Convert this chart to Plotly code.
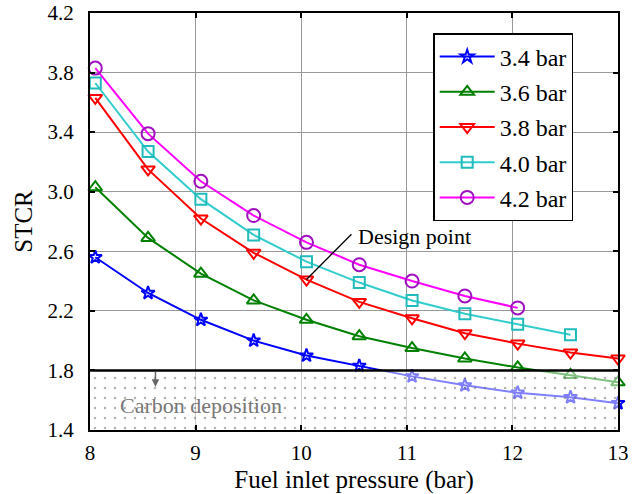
import plotly.graph_objects as go

# ---- data ----
pressure = [8.05, 8.55, 9.05, 9.55, 10.05, 10.55, 11.05, 11.55, 12.05, 12.55, 13.0]
stcr_34 = [2.56, 2.32, 2.14, 2.00, 1.90, 1.83, 1.76, 1.70, 1.65, 1.62, 1.58]
stcr_36 = [3.03, 2.69, 2.45, 2.27, 2.14, 2.03, 1.95, 1.88, 1.82, 1.77, 1.72]
stcr_38 = [3.63, 3.15, 2.82, 2.59, 2.41, 2.26, 2.15, 2.05, 1.98, 1.92, 1.88]
stcr_40 = [3.73, 3.27, 2.95, 2.71, 2.53, 2.39, 2.27, 2.18, 2.11, 2.04]
stcr_42 = [3.83, 3.39, 3.07, 2.84, 2.66, 2.51, 2.40, 2.30, 2.22]
series_names = ["3.4 bar", "3.6 bar", "3.8 bar", "4.0 bar", "4.2 bar"]
series_values = [stcr_34, stcr_36, stcr_38, stcr_40, stcr_42]

carbon_limit = 1.8
x_range = [8, 13]
y_range = [1.4, 4.2]
design_x, design_y = 10.05, 2.41

# ---- styles ----
line_colors = ["#0000ff", "#008000", "#ff0000", "#33cccc", "#ff00ff"]
marker_colors = ["#0000ff", "#008000", "#ff0000", "#22bbbb", "#a010c0"]
symbols = ["star-open", "triangle-up-open", "triangle-down-open", "square-open", "circle-open"]
sizes = [10, 12, 12, 11, 13]
FONT = "Liberation Serif, Times New Roman, serif"

fig = go.Figure()
for i, (name, vals) in enumerate(zip(series_names, series_values)):
    fig.add_trace(go.Scatter(
        x=pressure[:len(vals)], y=vals, name=name, mode="lines+markers",
        line=dict(color=line_colors[i], width=2),
        marker=dict(symbol=symbols[i], size=sizes[i], color=marker_colors[i],
                    line=dict(width=2, color=marker_colors[i])),
        legendgroup=name, cliponaxis=False,
    ))

# carbon deposition region (semi-transparent dotted overlay)
fig.add_trace(go.Scatter(
    x=[x_range[0], x_range[1], x_range[1], x_range[0], x_range[0]],
    y=[y_range[0], y_range[0], carbon_limit, carbon_limit, y_range[0]],
    fill="toself", mode="none", showlegend=False, hoverinfo="skip",
    fillcolor="rgba(255,255,255,0.5)",
    fillpattern=dict(shape=".", fgcolor="#666666", bgcolor="rgba(255,255,255,0.5)",
                     size=10, solidity=0.05),
))

fig.add_shape(type="line", xref="x", yref="y", x0=x_range[0], x1=x_range[1],
              y0=carbon_limit, y1=carbon_limit, line=dict(color="black", width=2.5),
              layer="above")

fig.add_annotation(x=8.62, y=1.69, ax=8.62, ay=1.8, axref="x", ayref="y", xref="x", yref="y",
                   text="", showarrow=True, arrowhead=2, arrowsize=1, arrowwidth=1.5,
                   arrowcolor="#666666")
fig.add_annotation(x=9.05, y=1.567, xref="x", yref="y", text="Carbon deposition",
                   showarrow=False, font=dict(family=FONT, size=22, color="#777777"))

fig.add_annotation(x=design_x, y=design_y, ax=10.49, ay=2.725, axref="x", ayref="y",
                   xref="x", yref="y", text="", showarrow=True, arrowhead=0,
                   arrowwidth=1.3, arrowcolor="black", standoff=0)
fig.add_annotation(x=10.52, y=2.70, xref="x", yref="y", text="Design point",
                   showarrow=False, xanchor="left", yanchor="middle",
                   font=dict(family=FONT, size=22, color="black"))

axis_common = dict(showline=True, linecolor="black", linewidth=2, mirror="ticks",
                   ticks="inside", ticklen=5, tickcolor="black", tickwidth=1.5,
                   showgrid=True, gridcolor="#999999", gridwidth=1, automargin=False,
                   zeroline=False, tickfont=dict(family=FONT, size=21, color="black"))

fig.update_xaxes(range=x_range, dtick=1, tick0=8, ticklabelstandoff=3,
                 title=dict(text="Fuel inlet pressure (bar)", font=dict(family=FONT, size=25, color="black"),
                            standoff=14),
                 **axis_common)
fig.update_yaxes(range=y_range, dtick=0.4, tick0=1.4, tickformat=".1f", ticklabelstandoff=10,
                 title=dict(text="STCR", font=dict(family=FONT, size=25, color="black"), standoff=8),
                 **axis_common)

fig.update_layout(
    width=638, height=494,
    margin=dict(l=90, r=20, t=13, b=64),
    plot_bgcolor="white", paper_bgcolor="white",
    legend=dict(x=0.65, y=0.952, xanchor="left", yanchor="top",
                bgcolor="white", bordercolor="black", borderwidth=1.5,
                font=dict(family=FONT, size=24, color="black"),
                traceorder="grouped", tracegroupgap=1, itemwidth=55),
    font=dict(family=FONT),
)

fig.write_html("out.html")
